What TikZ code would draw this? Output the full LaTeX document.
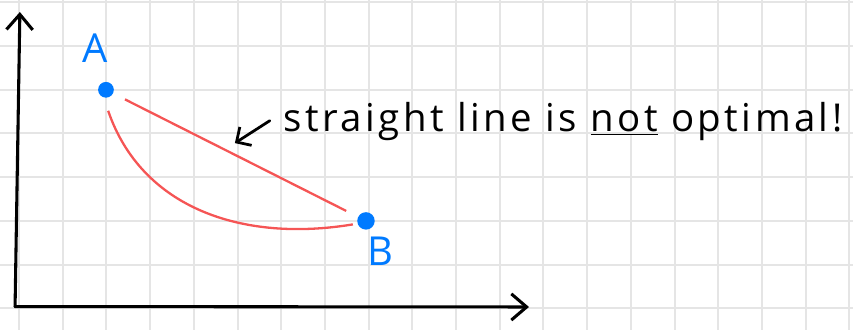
\documentclass[tikz,border=0pt]{standalone}
\usepackage{fontspec}
\setmainfont{Open Sans}
\usepackage{xcolor}
\usepackage{tikz}
\usetikzlibrary{arrows.meta,positioning}
\definecolor{NoteBlue}{RGB}{0,122,255}
\definecolor{PathRed}{RGB}{245,85,85}
\definecolor{GridGray}{RGB}{229,229,229}

\begin{document}
\begin{tikzpicture}[
		gridline/.style={GridGray, line width=1.3pt},
		axis/.style={-{Straight Barb[length=3.5mm, width=6mm, line width=2pt]}, line width=2pt, line cap=round},
		route/.style={PathRed, line width=1.5pt},
		endpoint/.style={circle, fill=NoteBlue, inner sep=0pt, minimum size=3.6mm},
		ptlabel/.style={NoteBlue, font=\fontsize{26}{26}\selectfont},
		note/.style={font=\fontsize{25}{25}\selectfont\addfontfeatures{LetterSpace=9}, inner sep=1mm},
		pointer/.style={-{Straight Barb[length=2.5mm, width=5mm, line width=1.8pt]}, line width=1.8pt, line cap=round}
	]
	\useasboundingbox (-0.435,-0.497) rectangle (19.085,7.055);
	\draw[gridline] (-0.435,-0.497) grid (19.085,7.055);
	% axes
	\coordinate (O) at (-0.09,0.04);
	\coordinate (ytip) at (0.02,6.78);
	\coordinate (xtip) at (11.67,0.03);
	\draw[axis] (O) -- (ytip);
	\draw[axis] (O) -- (xtip);
	% start and end point
	\node[endpoint] (A) at (1.99,5.0) {};
	\node[endpoint, minimum width=4mm, minimum height=3.2mm] (B) at (7.94,2.0) {};
	\node[ptlabel] at (1.74,5.95) {A};
	\node[ptlabel] at (8.26,1.3) {B};
	% straight path and curved path
	\draw[route, shorten <=3mm, shorten >=3mm] (A) -- (B);
	\draw[route] ([shift={(0.05,-0.48)}]A.center) .. controls (2.8,2.3) and (5.1,1.5) .. ([shift={(-0.3,-0.08)}]B.center);
	% remark
	\node[note, anchor=base west] (remark) at (5.95,4.05) {straight line is \underline{not} optimal!};
	\coordinate (tip) at (4.94,3.78);
	\draw[pointer, shorten <=2.5mm] ([yshift=1.5mm]remark.west) -- (tip);
\end{tikzpicture}
\end{document}
